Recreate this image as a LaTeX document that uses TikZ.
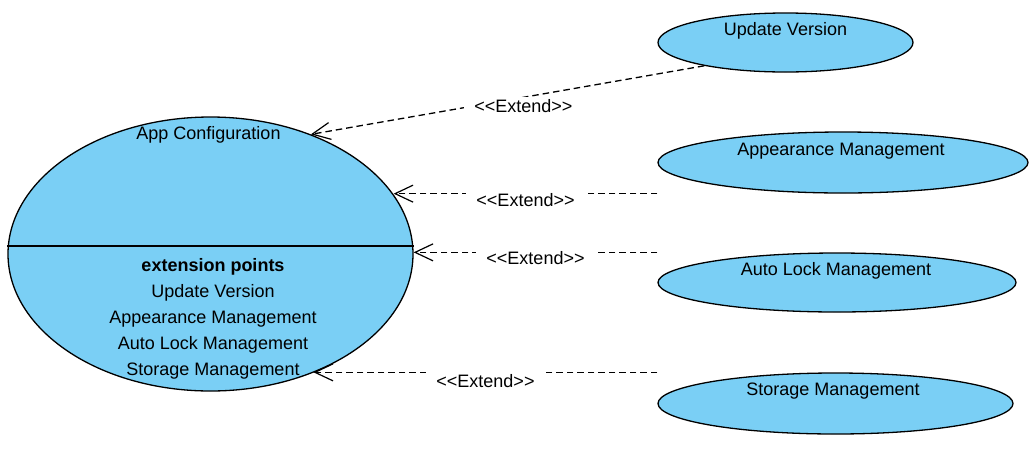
\documentclass[tikz,border=0pt]{standalone}
\usepackage{fontspec}
\setmainfont{Liberation Sans}
\usepackage{tikz}
\usetikzlibrary{arrows.meta, shapes.geometric, positioning, calc}

\definecolor{ucblue}{RGB}{122,207,245}
\newcommand{\extendtag}{<\kern0pt<Extend>\kern0pt>}

\begin{document}
\begin{tikzpicture}[x=1pt, y=-1pt,
	usecase/.style={ellipse, draw, fill=ucblue, line width=1.3pt, inner sep=0pt},
	uctext/.style={font=\fontsize{18}{26}\selectfont, inner sep=0pt},
	extend/.style={dash pattern=on 6.5pt off 4pt, line width=1.3pt, -{Straight Barb[length=18pt, width=17pt, line width=1.2pt]}},
	extlabel/.style={fill=white, font=\fontsize{18}{20}\selectfont, inner xsep=10pt, inner ysep=3pt, yshift=-6pt}]
	\useasboundingbox (0, 0) rectangle (1036, 448);
	% base use case
	\node [usecase, minimum width=405pt, minimum height=274pt] (app) at (210.5, 254) {};
	\draw [line width=1.3pt] ([yshift=8pt]app.west) -- ([yshift=8pt]app.east);
	\node [uctext] (appname) at (208.5, 135) {App Configuration};
	\node [uctext, align=center] (apppts) at (213, 319) {\textbf{extension points}\\Update Version\\Appearance Management\\Auto Lock Management\\Storage Management};
	% extending use cases
	\node [usecase, minimum width=255pt, minimum height=59pt] (upd) at (785.5, 42.5) {};
	\node [uctext] (updname) at ([yshift=11.5pt]upd.center) {Update Version};
	\node [usecase, minimum width=370pt, minimum height=61pt] (apm) at (843, 162.5) {};
	\node [uctext] (apmname) at ([yshift=11.5pt, xshift=-2pt]apm.center) {Appearance Management};
	\node [usecase, minimum width=358pt, minimum height=59pt] (alm) at (837, 282.5) {};
	\node [uctext] (almname) at ([yshift=11.5pt, xshift=-1pt]alm.center) {Auto Lock Management};
	\node [usecase, minimum width=355pt, minimum height=61pt] (stm) at (835.5, 403.5) {};
	\node [uctext] (stmname) at ([yshift=12.5pt, xshift=-2.5pt]stm.center) {Storage Management};
	% extend relations
	\coordinate (apmc) at (apm.west |- apm.south);
	\coordinate (almc) at (alm.west |- alm.north);
	\coordinate (stmc) at (stm.west |- stm.north);
	\draw [extend] (upd.196) -- node [extlabel, pos=.46, yshift=-3pt] (ext1) {\extendtag} (app.50);
	\draw [extend] (apmc) -- node [extlabel] (ext2) {\extendtag} (apmc -| app.18);
	\draw [extend] (almc) -- node [extlabel] (ext3) {\extendtag} (almc -| app.east);
	\draw [extend] (stmc) -- node [extlabel, yshift=-3pt] (ext4) {\extendtag} (stmc -| app.-49);
\end{tikzpicture}
\end{document}
